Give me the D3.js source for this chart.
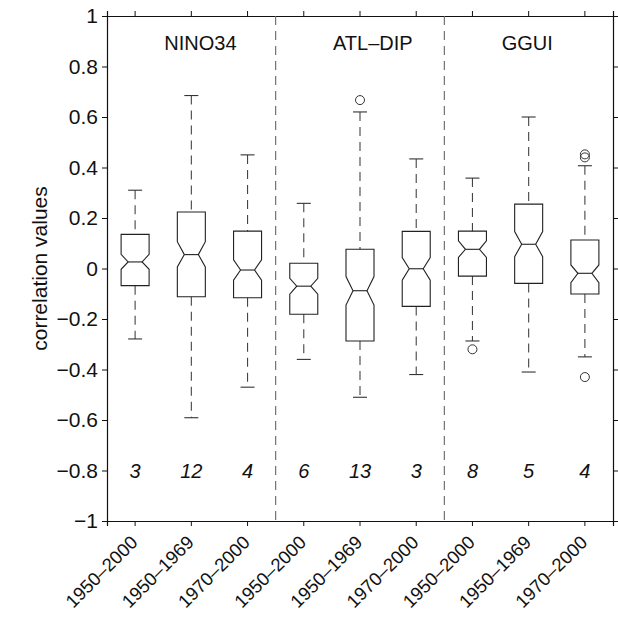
<!DOCTYPE html>
<html><head><meta charset="utf-8">
<script src="https://cdn.jsdelivr.net/npm/d3@7"></script>
<style>body{margin:0;background:#fff}svg{display:block}text{font-family:"Liberation Sans",Arial,sans-serif;fill:#111}</style>
</head><body>
<script>
const categories = ["1950–2000","1950–1969","1970–2000","1950–2000","1950–1969","1970–2000","1950–2000","1950–1969","1970–2000"];
const groups = ["NINO34","ATL–DIP","GGUI"];
const whiskerHi = [0.31, 0.685, 0.45, 0.258, 0.62, 0.434, 0.358, 0.60, 0.407];
const q3        = [0.135, 0.224, 0.148, 0.021, 0.076, 0.147, 0.148, 0.255, 0.113];
const notchHi   = [0.056, 0.106, 0.034, -0.039, -0.032, 0.043, 0.11, 0.146, 0.014];
const median    = [0.026, 0.055, -0.006, -0.07, -0.088, -0.001, 0.076, 0.096, -0.019];
const notchLo   = [-0.003, 0.006, -0.046, -0.102, -0.145, -0.046, 0.044, 0.047, -0.056];
const q1        = [-0.068, -0.112, -0.116, -0.181, -0.287, -0.15, -0.03, -0.059, -0.101];
const whiskerLo = [-0.279, -0.591, -0.47, -0.36, -0.51, -0.42, -0.287, -0.41, -0.35];
const outliers  = [[], [], [], [], [0.667], [], [-0.32], [], [0.44, 0.452, -0.43]];
const counts    = [3, 12, 4, 6, 13, 3, 8, 5, 4];
const yTicks    = [1, 0.8, 0.6, 0.4, 0.2, 0, -0.2, -0.4, -0.6, -0.8, -1];

const W = 618, H = 619, FS = 20, TFS = 21, XFS = 18.5;
const m = {left:107, right:613, top:16, bottom:521};
const svg = d3.select("body").append("svg").attr("width", W).attr("height", H);

const x = d3.scaleBand().domain(d3.range(categories.length)).range([m.left, m.right]).padding(0);
const y = d3.scaleLinear().domain([-1, 1]).range([m.bottom, m.top]);
const cx = i => x(i) + x.bandwidth()/2;
const fmt = v => v === 0 ? "0" : (v === 1 || v === -1 ? String(v) : d3.format(".1f")(v)).replace("-", "−");

const tl = 5;
const axL = d3.axisLeft(y).tickValues(yTicks).tickSize(tl).tickFormat(fmt);
const axR = d3.axisRight(y).tickValues(yTicks).tickSize(tl).tickFormat("");
const axB = d3.axisBottom(x).tickSize(tl).tickFormat("");
const axT = d3.axisTop(x).tickSize(tl).tickFormat("");
function styleAxis(g){ g.select(".domain").attr("stroke","#111").attr("stroke-width",1.2); g.selectAll(".tick line").attr("stroke","#111"); }
svg.append("g").attr("transform",`translate(${m.left},0)`).call(axL).call(styleAxis)
  .selectAll("text").attr("font-size",TFS).attr("x",-9).style("font-family","'Liberation Sans',Arial,sans-serif").attr("fill","#111");
svg.append("g").attr("transform",`translate(${m.right},0)`).call(axR).call(styleAxis);
svg.append("g").attr("transform",`translate(0,${m.bottom})`).call(axB).call(styleAxis);
svg.append("g").attr("transform",`translate(0,${m.top})`).call(axT).call(styleAxis);

svg.append("g").selectAll("text").data(categories).join("text")
  .attr("transform",(d,i)=>`translate(${cx(i)-1},${m.bottom+18}) rotate(-45)`)
  .attr("text-anchor","end").attr("dy","0.35em").attr("font-size",XFS).text(d=>d);

svg.append("text").attr("transform",`translate(47,${(m.top+m.bottom)/2}) rotate(-90)`)
  .attr("text-anchor","middle").attr("font-size",TFS).text("correlation values");

[3,6].forEach(i=>{
  svg.append("line").attr("x1",x(i)).attr("x2",x(i)).attr("y1",m.top).attr("y2",m.bottom)
    .attr("stroke","#666").attr("stroke-width",1.1).attr("stroke-dasharray","9,6");
});
groups.forEach((g,k)=>{
  svg.append("text").attr("x",cx(k*3+1)-27).attr("y",49.5)
    .attr("text-anchor","start").attr("font-size",FS).text(g);
});

const bw = 14, nw = 7, cw = 7;
const gB = svg.append("g");
categories.forEach((c,i)=>{
  const X = cx(i);
  gB.append("line").attr("x1",X).attr("x2",X).attr("y1",y(whiskerHi[i])).attr("y2",y(q3[i]))
    .attr("stroke","#444").attr("stroke-width",1.1).attr("stroke-dasharray","9,6");
  gB.append("line").attr("x1",X).attr("x2",X).attr("y1",y(q1[i])).attr("y2",y(whiskerLo[i]))
    .attr("stroke","#444").attr("stroke-width",1.1).attr("stroke-dasharray","9,6");
  [whiskerHi[i], whiskerLo[i]].forEach(v=>{
    gB.append("line").attr("x1",X-cw).attr("x2",X+cw).attr("y1",y(v)).attr("y2",y(v))
      .attr("stroke","#333").attr("stroke-width",1.1);
  });
  const pts = [
    [X-bw, y(q3[i])],[X+bw, y(q3[i])],[X+bw, y(notchHi[i])],[X+nw, y(median[i])],
    [X+bw, y(notchLo[i])],[X+bw, y(q1[i])],[X-bw, y(q1[i])],[X-bw, y(notchLo[i])],
    [X-nw, y(median[i])],[X-bw, y(notchHi[i])]
  ];
  gB.append("path").attr("d", d3.line()(pts)+"Z").attr("fill","none").attr("stroke","#222").attr("stroke-width",1.1);
  gB.append("line").attr("x1",X-nw).attr("x2",X+nw).attr("y1",y(median[i])).attr("y2",y(median[i]))
    .attr("stroke","#222").attr("stroke-width",1.1);
  outliers[i].forEach(v=>{
    gB.append("circle").attr("cx",X).attr("cy",y(v)).attr("r",4.5).attr("fill","none").attr("stroke","#333").attr("stroke-width",1);
  });
  gB.append("text").attr("x",X).attr("y",y(-0.8)).attr("dy","0.35em").attr("text-anchor","middle")
    .attr("font-size",FS).attr("font-style","italic").text(counts[i]);
});
</script>
</body></html>
